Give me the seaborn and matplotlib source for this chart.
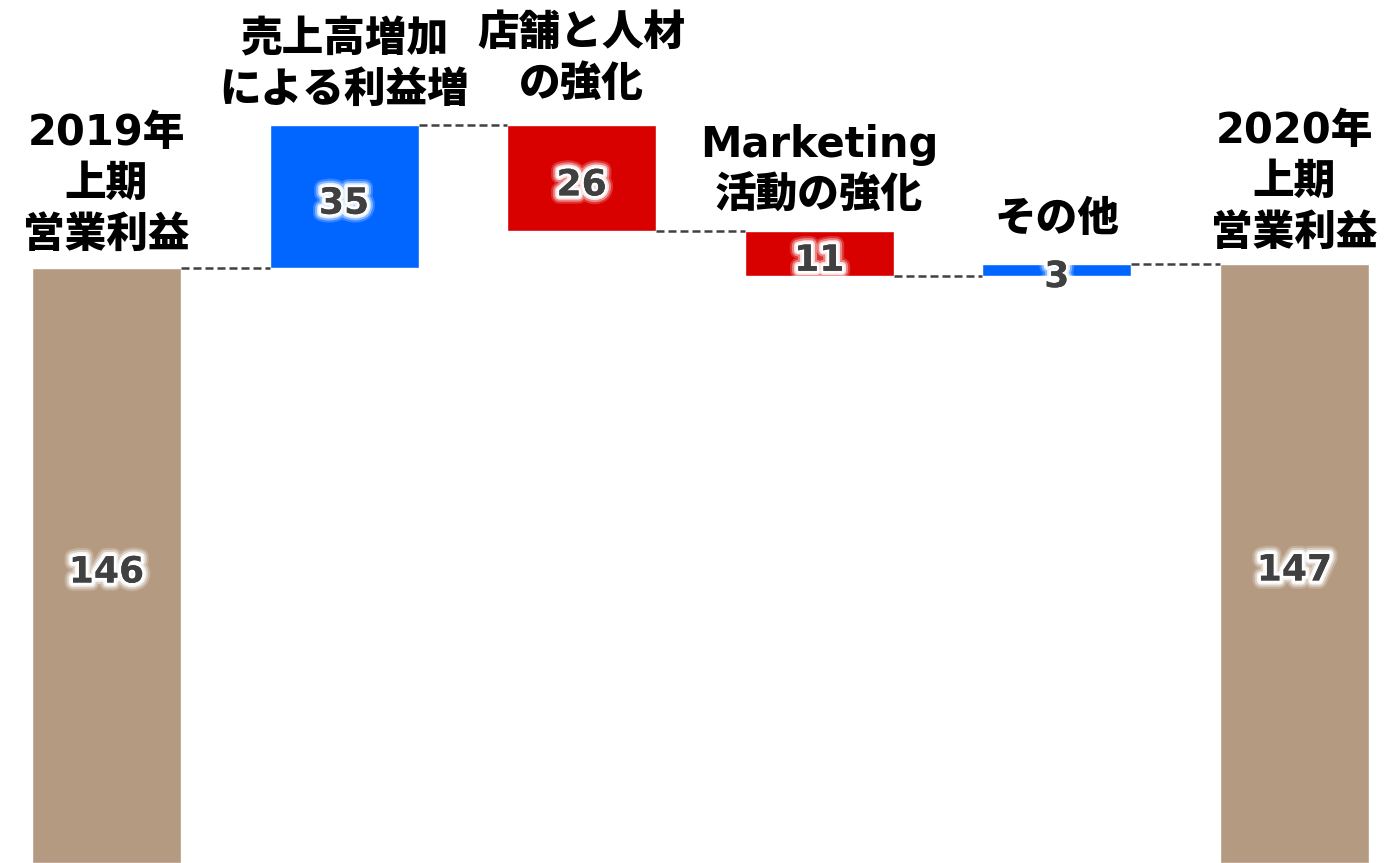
import numpy as np
import pandas as pd
import matplotlib
matplotlib.use('Agg')
import matplotlib.pyplot as plt
import matplotlib.patheffects as pe
import seaborn as sns

# data
categories = ['2019年\n上期\n営業利益', '売上高増加\nによる利益増', '店舗と人材\nの強化',
              'Marketing\n活動の強化', 'その他', '2020年\n上期\n営業利益']
start_value = 146
deltas = [35, -26, -11, 3]
end_value = 147
bar_colors = ['#B59A82', '#0066FF', '#D90000', '#D90000', '#0066FF', '#B59A82']

# waterfall geometry
running = np.cumsum([start_value] + deltas)          # 146, 181, 155, 144, 147
bottoms = [0] + [min(p, r) for p, r in zip(running[:-1], running[1:])] + [0]
heights = [start_value] + [abs(d) for d in deltas] + [end_value]
levels = list(running)                              # connector levels
df = pd.DataFrame({'cat': categories, 'h': heights, 'bottom': bottoms})

sns.set_theme(style='white')
plt.rcParams['font.family'] = ['DejaVu Sans', 'Noto Sans CJK JP']

fig = plt.figure(figsize=(13.84, 8.63), dpi=100)
ax = fig.add_axes([0, 0, 1, 1])

sns.barplot(data=df, x='cat', y='h', hue='cat', palette=bar_colors,
            legend=False, width=0.627, ax=ax, saturation=1)

# lift the floating bars
for patch, b in zip(ax.patches, df['bottom']):
    patch.set_y(b)

w = 0.627
for i, lvl in enumerate(levels):
    ax.plot([i + w / 2, i + 1 - w / 2], [lvl, lvl], color='#404040',
            linestyle=(0, (3.2, 1.6)), linewidth=1.8)

glow = [pe.withStroke(linewidth=12, foreground=(1, 1, 1, 0.2)),
        pe.withStroke(linewidth=9, foreground=(1, 1, 1, 0.4)),
        pe.withStroke(linewidth=6, foreground=(1, 1, 1, 0.8)),
        pe.withStroke(linewidth=3.5, foreground='white'),
        pe.Normal()]
label_off = [9, 10.5, 15, 10.5, 17, 7]
for i, (h, b) in enumerate(zip(heights, bottoms)):
    ax.annotate(str(h), (i, b + h / 2), xytext=(0, -5), textcoords='offset points',
                ha='center', va='center', fontsize=26, fontweight='bold',
                color='#404040', path_effects=glow, family='DejaVu Sans')
    ax.annotate(categories[i], (i, b + h), xytext=(0, label_off[i]),
                textcoords='offset points', ha='center', va='bottom',
                fontsize=30, fontweight='heavy', color='black', linespacing=1.27)

ax.set_xlim(-0.448, 5.377)
ax.set_ylim(0, 211.8)
ax.axis('off')

fig.savefig('out.png', dpi=100, facecolor='white')
